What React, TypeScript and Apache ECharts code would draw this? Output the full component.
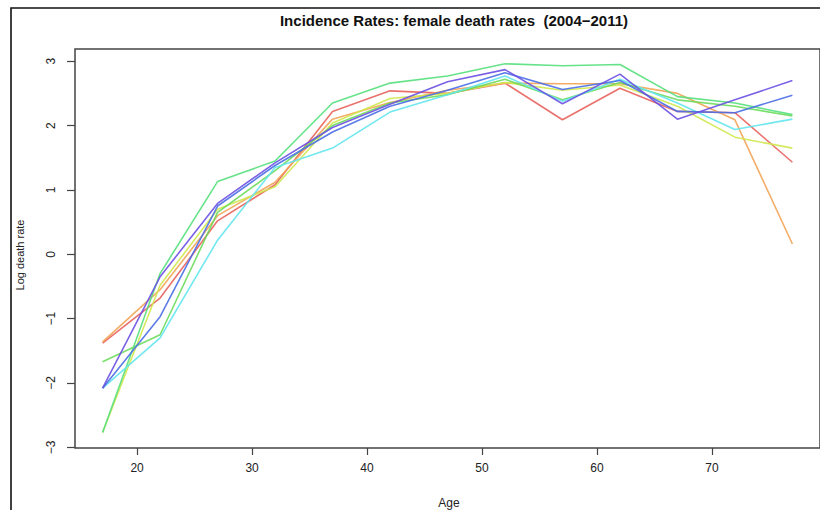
import React, { useEffect, useRef } from "react";
import * as echarts from "echarts";

const ages = [17, 22, 27, 32, 37, 42, 47, 52, 57, 62, 67, 72, 77];
const yearNames = ["2004", "2005", "2006", "2007", "2008", "2009", "2010", "2011"];
const rate2004 = [-1.38, -0.68, 0.52, 1.08, 2.22, 2.54, 2.5, 2.66, 2.09, 2.58, 2.22, 2.2, 1.43];
const rate2005 = [-1.36, -0.55, 0.6, 1.12, 2.1, 2.36, 2.55, 2.66, 2.65, 2.65, 2.5, 2.09, 0.16];
const rate2006 = [-2.77, -0.48, 0.7, 1.05, 2.04, 2.42, 2.5, 2.67, 2.55, 2.63, 2.3, 1.82, 1.65];
const rate2007 = [-2.77, -0.3, 1.13, 1.45, 2.35, 2.66, 2.77, 2.96, 2.93, 2.95, 2.45, 2.35, 2.17];
const rate2008 = [-1.67, -1.25, 0.65, 1.3, 2.0, 2.35, 2.48, 2.72, 2.4, 2.67, 2.4, 2.3, 2.15];
const rate2009 = [-2.08, -1.3, 0.22, 1.35, 1.65, 2.21, 2.48, 2.77, 2.38, 2.72, 2.35, 1.94, 2.1];
const rate2010 = [-2.08, -0.97, 0.75, 1.38, 1.9, 2.3, 2.55, 2.82, 2.56, 2.7, 2.22, 2.2, 2.47];
const rate2011 = [-2.08, -0.35, 0.79, 1.42, 1.97, 2.33, 2.68, 2.87, 2.34, 2.8, 2.1, 2.4, 2.7];
const allRates = [rate2004, rate2005, rate2006, rate2007, rate2008, rate2009, rate2010, rate2011];
const colors = ["#e8625c", "#f2a455", "#cfe84e", "#55e07c", "#6cdc5c", "#62e6ee", "#4a6ee6", "#6c50e2"];
const xTicks = [20, 30, 40, 50, 60, 70];
const yTicks = [-3, -2, -1, 0, 1, 2, 3];

const FONT = "'Liberation Sans', Arial, sans-serif";

export default function App() {
  const ref = useRef<HTMLDivElement>(null);
  useEffect(() => {
    document.body.style.margin = "0";
    const chart = echarts.init(ref.current!, null, { renderer: "svg" });
    const series = allRates.map((vals, i) => ({
      name: yearNames[i],
      type: "line",
      data: ages.map((a, j) => [a, vals[j]]),
      showSymbol: false,
      symbol: "none",
      lineStyle: { color: colors[i], width: 1.6, opacity: 0.9 },
      itemStyle: { color: colors[i] },
      z: 2,
    }));
    chart.setOption({
      animation: false,
      backgroundColor: "#ffffff",
      title: {
        text: "Incidence Rates: female death rates  (2004\u22122011)",
        left: 449,
        top: 8,
        textAlign: "center",
        textStyle: { fontFamily: FONT, fontSize: 15, fontWeight: "bold", color: "#111" },
      },
      graphic: [
        {
          type: "rect",
          shape: { x: 11, y: 8, width: 900, height: 600 },
          style: { fill: "none", stroke: "#111", lineWidth: 1.6 },
          silent: true,
        },
        {
          type: "text",
          x: 20,
          y: 255,
          rotation: Math.PI / 2,
          style: {
            text: "Log death rate",
            font: `11px ${FONT}`,
            fill: "#222",
            textAlign: "center",
            textVerticalAlign: "middle",
          },
        },
        {
          type: "text",
          x: 449,
          y: 503,
          style: {
            text: "Age",
            font: `12px ${FONT}`,
            fill: "#222",
            textAlign: "center",
            textVerticalAlign: "middle",
          },
        },
      ],
      grid: {
        left: 75,
        top: 49,
        right: -4,
        bottom: 62,
        show: true,
        borderColor: "#444",
        borderWidth: 1.5,
        backgroundColor: "transparent",
      },
      xAxis: {
        type: "value",
        position: "bottom",
        min: 14.6,
        max: 79.4,
        axisLine: { show: false, onZero: false },
        splitLine: { show: false },
        axisTick: {
          show: true,
          inside: false,
          length: 7,
          lineStyle: { color: "#444", width: 1.2 },
          customValues: xTicks,
        },
        axisLabel: {
          customValues: xTicks,
          margin: 14,
          fontFamily: FONT,
          fontSize: 12,
          color: "#222",
        },
      },
      yAxis: {
        type: "value",
        position: "left",
        min: -3.01,
        max: 3.19,
        axisLine: { show: false, onZero: false },
        splitLine: { show: false },
        axisTick: {
          show: true,
          inside: false,
          length: 8,
          lineStyle: { color: "#444", width: 1.2 },
          customValues: yTicks,
        },
        axisLabel: {
          customValues: yTicks,
          rotate: 90,
          margin: 18,
          fontFamily: FONT,
          fontSize: 12,
          color: "#222",
          formatter: (v: number) => (v < 0 ? "\u2212" + Math.abs(v) : String(v)),
        },
      },
      series,
    });
    return () => chart.dispose();
  }, []);
  return (
    <div
      ref={ref}
      style={{ position: "absolute", left: 0, top: 0, width: 820, height: 510 }}
    />
  );
}
